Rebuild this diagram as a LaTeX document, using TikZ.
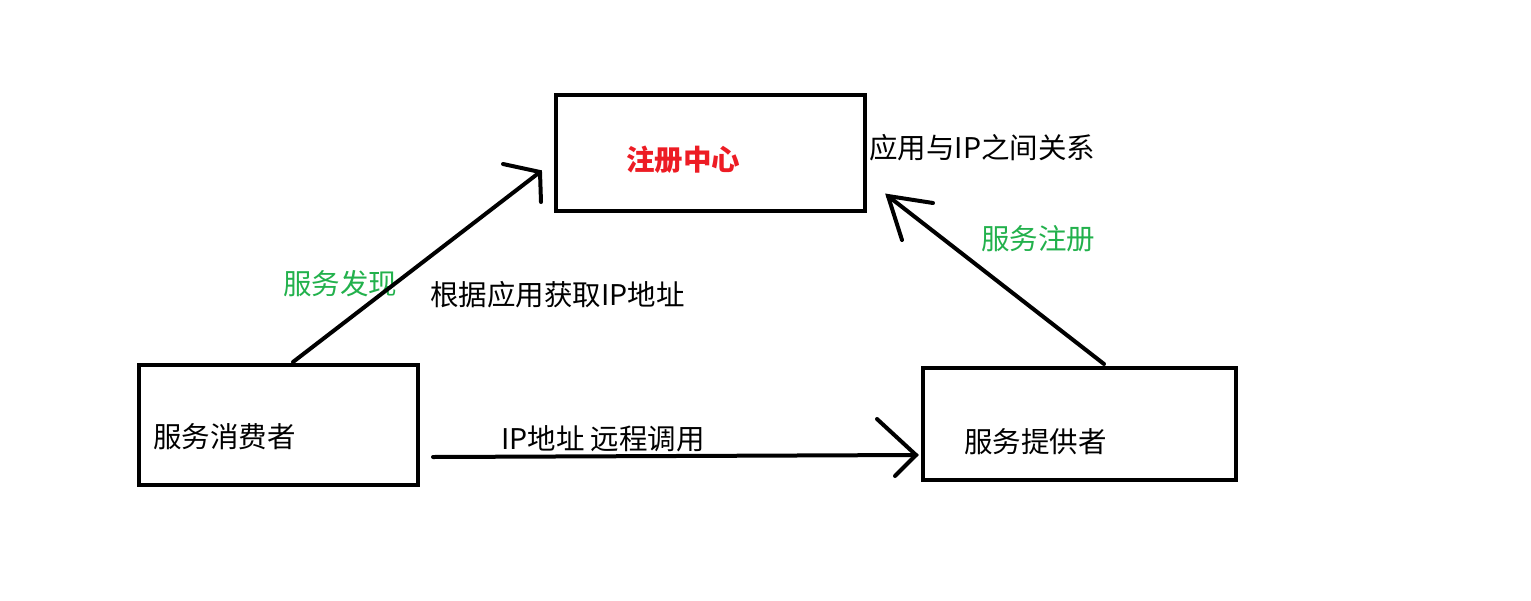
\documentclass[tikz,border=0pt]{standalone}
\usepackage{fontspec}
\setmainfont{Noto Sans CJK SC}
\definecolor{regred}{HTML}{ED1C24}
\definecolor{lblgreen}{HTML}{22B14C}
\begin{document}
\begin{tikzpicture}[x=1pt,y=-1pt,
  box/.style={draw,line width=4pt},
  stroke/.style={line width=4pt,line cap=round},
  lbl/.style={anchor=west,inner sep=0pt,font=\fontsize{28.5}{32}\selectfont}]
\useasboundingbox[fill=white] (0,0) rectangle (1531,600);
% boxes
\draw[box] (556,95) rectangle (865,211);
\draw[box] (139,365) rectangle (418,485);
\draw[box] (923,368) rectangle (1236,480);
% texts
\node[lbl,text=regred,font=\fontsize{28.5}{32}\selectfont\bfseries] (reg) at (626,160) {注册中心};
\node[lbl] (rel) at (869,148) {应用与IP之间关系};
\node[lbl,text=lblgreen] (sreg) at (981,239) {服务注册};
\node[lbl,text=lblgreen] (sdis) at (283,284) {服务发现};
\node[lbl] (getip) at (430,295) {根据应用获取IP地址};
\node[lbl] (cons) at (153,437) {服务消费者};
\node[lbl] (call) at (501,439) {IP地址 远程调用};
\node[lbl] (prov) at (964,442) {服务提供者};
% arrow consumer -> registry
\coordinate (a1s) at (293,362);
\coordinate (a1t) at (540,172);
\coordinate (a1h1) at (503,164);
\coordinate (a1h2) at (541,202);
\draw[stroke] (a1s) -- (a1t);
\draw[stroke] (a1h1) -- (a1t) -- (a1h2);
% arrow provider -> registry
\coordinate (a2s) at (1104,364);
\coordinate (a2t) at (888,196);
\coordinate (a2h1) at (933,203);
\coordinate (a2h2) at (902,240);
\draw[stroke] (a2s) -- (a2t);
\draw[stroke] (a2h1) -- (a2t) -- (a2h2);
% arrow consumer -> provider
\coordinate (a3s) at (433,457);
\coordinate (a3t) at (916,455);
\coordinate (a3h1) at (877,419);
\coordinate (a3h2) at (895,476);
\draw[stroke] (a3s) -- (a3t);
\draw[stroke] (a3h1) -- (a3t) -- (a3h2);
\end{tikzpicture}
\end{document}
